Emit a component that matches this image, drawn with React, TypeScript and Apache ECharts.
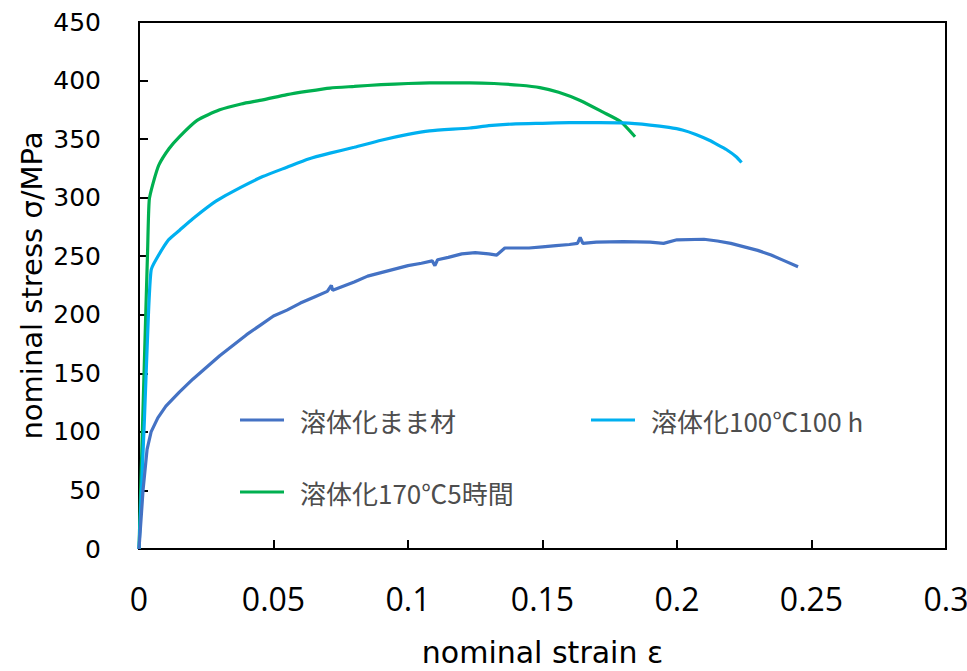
import React, { useEffect, useRef } from "react";
import * as echarts from "echarts";

const seriesNames = ["溶体化まま材", "溶体化100℃100 h", "溶体化170℃5時間"];
const seriesColors = ["#4472C4", "#00B0F0", "#00B050"];

const asIsStrain = [0, 0.0015, 0.003, 0.0045, 0.007, 0.01, 0.015, 0.02, 0.025, 0.03, 0.035, 0.04, 0.045, 0.05, 0.055, 0.06, 0.065, 0.07, 0.0715, 0.072, 0.08, 0.085, 0.09, 0.095, 0.1, 0.105, 0.109, 0.11, 0.111, 0.115, 0.12, 0.125, 0.13, 0.133, 0.136, 0.14, 0.145, 0.15, 0.155, 0.16, 0.163, 0.164, 0.165, 0.17, 0.18, 0.19, 0.195, 0.2, 0.21, 0.215, 0.22, 0.225, 0.23, 0.235, 0.24, 0.245];
const asIsStress = [0, 50, 85, 100, 112, 122, 134, 145, 155, 165, 174, 183, 191, 199, 204, 210, 215, 220, 225, 221, 228, 233, 236, 239, 242, 244, 246, 242, 247, 249, 252, 253, 252, 251, 257, 257, 257, 258, 259, 260, 261, 266, 261, 262, 262.5, 262, 261, 264, 264.5, 263, 261, 258, 255, 251, 246, 241];

const aged100Strain = [0, 0.002, 0.0035, 0.0045, 0.0063, 0.011, 0.015, 0.02, 0.0286, 0.038, 0.046, 0.055, 0.063, 0.071, 0.08, 0.09, 0.1, 0.108, 0.123, 0.13, 0.14, 0.15, 0.16, 0.171, 0.18, 0.19, 0.197, 0.202, 0.207, 0.212, 0.216, 0.2186, 0.222, 0.224];
const aged100Stress = [0, 110, 200, 238, 247, 264, 272, 282, 297, 309, 318, 326, 333, 338, 343, 349, 354, 357, 359.5, 361.5, 363, 363.5, 364, 364, 363.8, 362, 360, 357.8, 354, 349, 344, 340.7, 335, 330];

const aged170Strain = [0, 0.002, 0.0032, 0.0038, 0.0052, 0.0074, 0.0112, 0.015, 0.0216, 0.03, 0.038, 0.046, 0.055, 0.063, 0.071, 0.08, 0.09, 0.1, 0.108, 0.123, 0.132, 0.1416, 0.149, 0.156, 0.164, 0.1725, 0.179, 0.1844];
const aged170Stress = [0, 160, 255, 298, 312, 328, 342, 352, 366, 375, 380, 383.5, 388, 391, 393.6, 395, 396.5, 397.5, 398, 398, 397.5, 396, 394, 390, 383, 373, 365, 352];

const xTicks = { min: 0, max: 0.3, interval: 0.05 };
const yTicks = { min: 0, max: 450, interval: 50 };

function pairs(xs: number[], ys: number[]) {
  return xs.map((x, i) => [x, ys[i]]);
}

export default function App() {
  const ref = useRef<HTMLDivElement>(null);
  useEffect(() => {
    if (!ref.current) return;
    const chart = echarts.init(ref.current, null, { renderer: "svg" });
    const data = [pairs(asIsStrain, asIsStress), pairs(aged100Strain, aged100Stress), pairs(aged170Strain, aged170Stress)];
    const legendPos = [
      { left: 240, top: 407 },
      { left: 591, top: 407 },
      { left: 240, top: 479 },
    ];
    chart.setOption({
      animation: false,
      backgroundColor: "#ffffff",
      grid: {
        left: 139, top: 22, width: 807, height: 527,
        outerBoundsMode: "none",
        containLabel: false,
        show: true, borderColor: "#000000", borderWidth: 2, backgroundColor: "transparent",
      },
      legend: seriesNames.map((n, i) => ({
        data: [n],
        left: legendPos[i].left,
        top: legendPos[i].top,
        icon: "rect",
        itemWidth: 44,
        itemHeight: 3,
        itemGap: 0,
        padding: 0,
        selectedMode: false,
        textStyle: {
          fontFamily: "'Noto Sans CJK JP', 'Noto Sans', sans-serif",
          fontSize: 26,
          color: "#4d4d4d",
          padding: [0, 0, 0, 11],
        },
      })),
      xAxis: {
        type: "value",
        min: xTicks.min, max: xTicks.max, interval: xTicks.interval,
        name: "nominal strain ε",
        nameLocation: "middle",
        nameGap: 88,
        nameMoveOverlap: false,
        nameTextStyle: { fontFamily: "'DejaVu Sans', sans-serif", fontSize: 30, color: "#000" },
        axisLine: { show: true, onZero: false, lineStyle: { color: "#000", width: 2 } },
        axisTick: { show: true, inside: true, length: 9, lineStyle: { color: "#000", width: 2 } },
        axisLabel: {
          margin: 33,
          fontFamily: "'Open Sans', sans-serif",
          fontSize: 32,
          color: "#000",
        },
        splitLine: { show: false },
      },
      yAxis: {
        type: "value",
        min: yTicks.min, max: yTicks.max, interval: yTicks.interval,
        name: "nominal stress σ/MPa",
        nameLocation: "middle",
        nameGap: 93,
        nameMoveOverlap: false,
        nameTextStyle: { fontFamily: "'DejaVu Sans', sans-serif", fontSize: 29, color: "#000" },
        axisLine: { show: true, lineStyle: { color: "#000", width: 2 } },
        axisTick: { show: true, inside: true, length: 9, lineStyle: { color: "#000", width: 2 } },
        axisLabel: {
          margin: 38,
          fontFamily: "'DejaVu Sans', sans-serif",
          fontSize: 25,
          color: "#000",
        },
        splitLine: { show: false },
      },
      series: seriesNames.map((n, i) => ({
        name: n,
        type: "line",
        data: data[i],
        showSymbol: false,
        symbol: "none",
        smooth: i === 0 ? false : 0.2,
        color: seriesColors[i],
        lineStyle: { color: seriesColors[i], width: 3.2 },
        z: 3 - i,
      })),
    });
    return () => chart.dispose();
  }, []);
  return <div ref={ref} style={{ position: "absolute", left: 0, top: 0, width: 967, height: 671 }} />;
}
